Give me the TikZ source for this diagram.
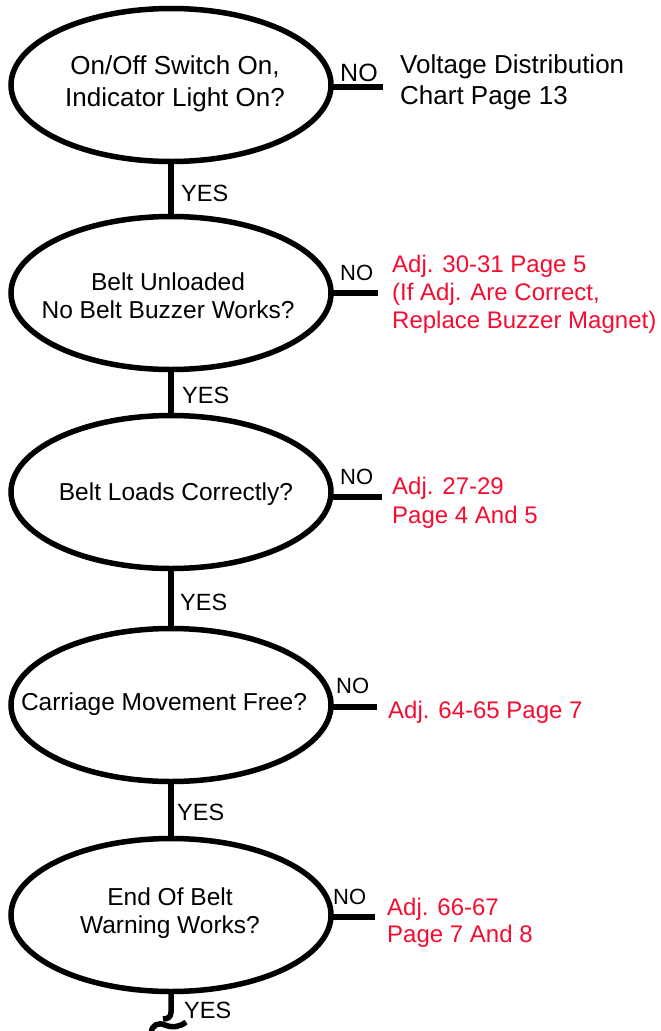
\documentclass[tikz,border=0pt]{standalone}
\usepackage{fontspec}
\setmainfont{Liberation Sans}
\usetikzlibrary{shapes.geometric}
\definecolor{adjred}{RGB}{245,12,48}
\begin{document}
\begin{tikzpicture}[x=1pt,y=-1pt,
  question/.style={draw, ellipse, line width=5.5pt, minimum width=320pt,
    minimum height=153pt, inner sep=0pt, outer sep=0pt},
  qtext/.style={align=center, inner sep=0pt, font=\fontsize{24.5}{28}\selectfont},
  flow/.style={line width=5.5pt},
  yeslab/.style={anchor=west, inner sep=0pt, font=\fontsize{23.5}{27}\selectfont},
  nolab/.style={anchor=west, inner sep=0pt, font=\fontsize{22}{26}\selectfont},
  fix/.style={anchor=west, align=left, inner sep=0pt, text=adjred,
    font=\fontsize{24}{28}\selectfont},
]
\useasboundingbox (0,0) rectangle (661,1031);

% decision ellipses
\node[question] (q1) at (171,85) {};
\node[qtext, font=\fontsize{26}{32}\selectfont] (t1) at (175,84) {On/Off Switch On,\\Indicator Light On?};
\node[question] (q2) at (171,293) {};
\node[qtext] (t2) at (168,296) {Belt Unloaded\\No Belt Buzzer Works?};
\node[question] (q3) at (171,492) {};
\node[qtext] (t3) at (176,494) {Belt Loads Correctly?};
\node[question] (q4) at (171,705) {};
\node[qtext] (t4) at (164,704) {Carriage Movement Free?};
\node[question] (q5) at (171,915) {};
\node[qtext] (t5) at (170,913) {End Of Belt\\Warning Works?};

% YES path
\draw[flow] (q1.south) -- (q2.north);
\node[yeslab] (y1) at (181,193) {YES};
\draw[flow] (q2.south) -- (q3.north);
\node[yeslab] (y2) at (182,395) {YES};
\draw[flow] (q3.south) -- (q4.north);
\node[yeslab] (y3) at (180,602) {YES};
\draw[flow] (q4.south) -- (q5.north);
\node[yeslab] (y4) at (177,812) {YES};

% NO branches
\coordinate (e1) at (383,87);
\draw[flow] (q1.east |- e1) -- (e1);
\node[nolab, font=\fontsize{25}{28}\selectfont] (n1) at (340,73) {NO};
\node[anchor=west, align=left, inner sep=0pt, font=\fontsize{26}{31}\selectfont] (r1) at (400,82.5) {Voltage Distribution\\Chart Page 13};

\coordinate (e2) at (378,293);
\draw[flow] (q2.east |- e2) -- (e2);
\node[nolab] (n2) at (340,273) {NO};
\node[fix] (r2) at (392,294.5) {Adj. 30-31 Page 5\\(If Adj. Are Correct,\\Replace Buzzer Magnet)};

\coordinate (e3) at (382,497);
\draw[flow] (q3.east |- e3) -- (e3);
\node[nolab] (n3) at (340,477) {NO};
\node[fix, font=\fontsize{24}{29}\selectfont] (r3) at (392,502.5) {Adj. 27-29\\Page 4 And 5};

\coordinate (e4) at (377,707);
\draw[flow] (q4.east |- e4) -- (e4);
\node[nolab] (n4) at (336,686) {NO};
\node[fix] (r4) at (388,712) {Adj. 64-65 Page 7};

\coordinate (e5) at (375,917);
\draw[flow] (q5.east |- e5) -- (e5);
\node[nolab] (n5) at (333,897) {NO};
\node[fix, font=\fontsize{24}{27}\selectfont] (r5) at (387,922.5) {Adj. 66-67\\Page 7 And 8};

% continuation with break mark
\coordinate (b1) at (171,1012);
\draw[flow] (q5.south) -- (b1) .. controls (171,1017) and (168,1019) .. (163,1019);
\draw[flow] (151,1033) .. controls (152,1025) and (158,1022) .. (165,1025)
  .. controls (172,1028) and (180,1027) .. (186,1022);
\node[yeslab] (y5) at (184,1010) {YES};
\end{tikzpicture}
\end{document}
